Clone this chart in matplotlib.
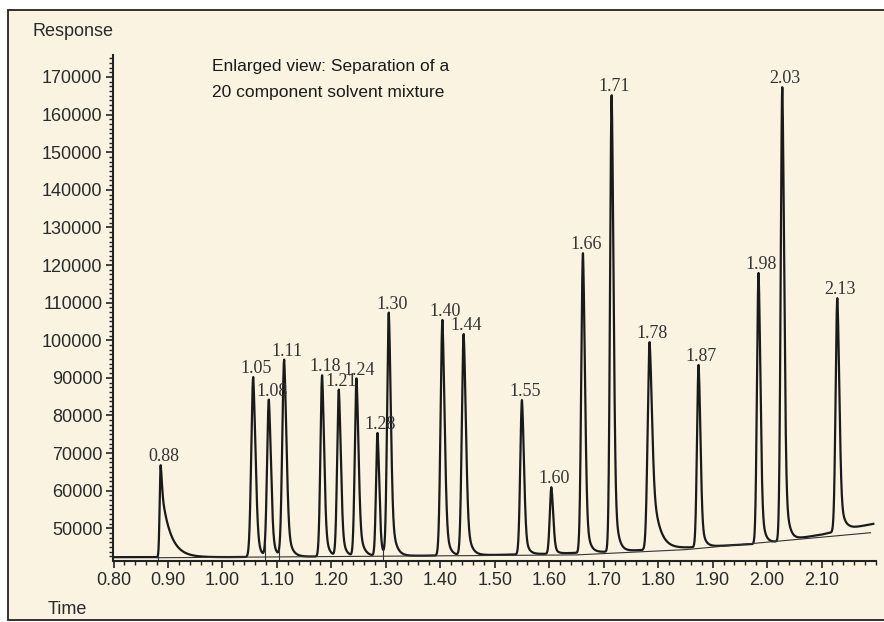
import matplotlib
matplotlib.use('Agg')
import matplotlib.pyplot as plt
import numpy as np
from matplotlib.patches import Rectangle
from matplotlib.ticker import MultipleLocator, FormatStrFormatter

# peak table
peak_rt = [0.8866, 1.0566, 1.0853, 1.1134, 1.1831, 1.2138, 1.2462, 1.2848, 1.3055, 1.404,
           1.443, 1.550, 1.604, 1.662, 1.7147, 1.7844, 1.8743, 1.9844, 2.028, 2.129]
peak_labels = ["0.88", "1.05", "1.08", "1.11", "1.18", "1.21", "1.24", "1.28", "1.30", "1.40",
               "1.44", "1.55", "1.60", "1.66", "1.71", "1.78", "1.87", "1.98", "2.03", "2.13"]
peak_top = [66800, 90200, 84100, 94700, 90700, 86800, 89800, 75300, 107200, 105400,
            101600, 84100, 60900, 123200, 165200, 99500, 93400, 117900, 167300, 111200]
peak_sigma = [0.0018, 0.0036, 0.0033, 0.0035, 0.0031, 0.0031, 0.0031, 0.0027, 0.0031, 0.0034,
              0.0034, 0.0031, 0.0029, 0.0031, 0.0029, 0.0036, 0.0029, 0.0029, 0.0029, 0.0031]
peak_tail = [0.80, 0.35, 0.35, 0.35, 0.35, 0.35, 0.35, 0.30, 0.35, 0.35,
             0.35, 0.30, 0.30, 0.30, 0.30, 0.50, 0.30, 0.30, 0.30, 0.30]
peak_tau = [0.016, 0.006, 0.006, 0.007, 0.006, 0.006, 0.007, 0.005, 0.007, 0.006,
            0.007, 0.006, 0.005, 0.006, 0.006, 0.012, 0.006, 0.006, 0.006, 0.007]

# detector drift
drift_t = [0.80, 1.00, 1.30, 1.50, 1.60, 1.70, 1.80, 1.90, 2.00, 2.10, 2.15, 2.20]
drift_v = [42300, 42300, 42600, 42900, 43200, 43700, 44400, 45200, 46000, 48300, 49900, 51300]

# integration baseline and drop lines
base_t = [0.88, 1.65, 1.85, 2.19]
base_v = [42150, 42900, 44300, 48800]
drop_t = [0.8817, 1.078, 1.104, 1.294]

x_ticks = [0.80, 0.90, 1.00, 1.10, 1.20, 1.30, 1.40, 1.50, 1.60, 1.70, 1.80, 1.90, 2.00, 2.10]
y_ticks = [50000, 60000, 70000, 80000, 90000, 100000, 110000, 120000, 130000, 140000,
           150000, 160000, 170000]


def peak_shape(t, rt, sigma, tail, tau):
    """Gaussian front with an exponential tail, max = 1"""
    dt = t - rt
    left = np.exp(-0.5 * (dt / sigma) ** 2)
    right = (1 - tail) * np.exp(-0.5 * (dt / (sigma * 1.2)) ** 2) \
        + tail * np.exp(-np.clip(dt, 0, None) / tau)
    return np.where(dt < 0, left, right)


t = np.linspace(0.80, 2.195, 8000)
signal = np.interp(t, drift_t, drift_v)
for rt, top, s, a, tau in zip(peak_rt, peak_top, peak_sigma, peak_tail, peak_tau):
    h = top - np.interp(rt, drift_t, drift_v)
    signal = signal + h * peak_shape(t, rt, s, a, tau)

fig = plt.figure(figsize=(8.84, 6.22), dpi=100)
fig.patch.set_facecolor('white')
fig.patches.append(Rectangle((8 / 884, 2 / 622), 1.0, 610 / 622, transform=fig.transFigure,
                             facecolor='#fbf3e2', edgecolor='#222222', linewidth=1.3,
                             zorder=-5))

ax = fig.add_axes([113.5 / 884, 1 - 561 / 622, (876 - 113.5) / 884, (561 - 55) / 622])
ax.set_facecolor('none')
ax.set_xlim(0.80, 2.20)
ax.set_ylim(41280, 175850)

ax.plot(t, signal, color='#1a1a1a', lw=1.6)
ax.plot(base_t, base_v, color='#333333', lw=0.8)
for d in drop_t:
    ax.vlines(d, 41280, np.interp(d, t, signal), color='#333333', lw=0.8)

for rt, top, lbl in zip(peak_rt, peak_top, peak_labels):
    ax.annotate(lbl, (rt, top), xytext=(2, 0), textcoords='offset points',
                ha='center', va='bottom', fontsize=13, color='#333333',
                fontfamily='Liberation Serif')

for side in ['top', 'right']:
    ax.spines[side].set_visible(False)
for side in ['left', 'bottom']:
    ax.spines[side].set_linewidth(1.5)
    ax.spines[side].set_color('#222222')

ax.set_xticks(x_ticks)
ax.xaxis.set_major_formatter(FormatStrFormatter('%.2f'))
ax.xaxis.set_minor_locator(MultipleLocator(0.02))
ax.set_yticks(y_ticks)
ax.yaxis.set_major_formatter(FormatStrFormatter('%d'))
ax.yaxis.set_minor_locator(MultipleLocator(1250))
ax.tick_params(which='major', length=5, width=1.2, color='#222222', labelsize=13,
               labelcolor='#2a2a2a', pad=3)
ax.tick_params(which='minor', length=3, width=1.0, color='#222222')
for lab in ax.get_xticklabels() + ax.get_yticklabels():
    lab.set_fontfamily('Liberation Sans')

fig.text(32 / 884, 1 - 32 / 622, 'Response', ha='left', va='center', fontsize=13,
         color='#2a2a2a', family='Liberation Sans')
fig.text(48 / 884, 1 - 609 / 622, 'Time', ha='left', va='center', fontsize=13,
         color='#2a2a2a', family='Liberation Sans')
fig.text(212 / 884, 1 - 67 / 622, 'Enlarged view: Separation of a', ha='left', va='center',
         fontsize=12.5, color='#1a1a1a', family='Liberation Sans')
fig.text(212 / 884, 1 - 93 / 622, '20 component solvent mixture', ha='left', va='center',
         fontsize=12.5, color='#1a1a1a', family='Liberation Sans')

fig.savefig('out.png', dpi=100)
